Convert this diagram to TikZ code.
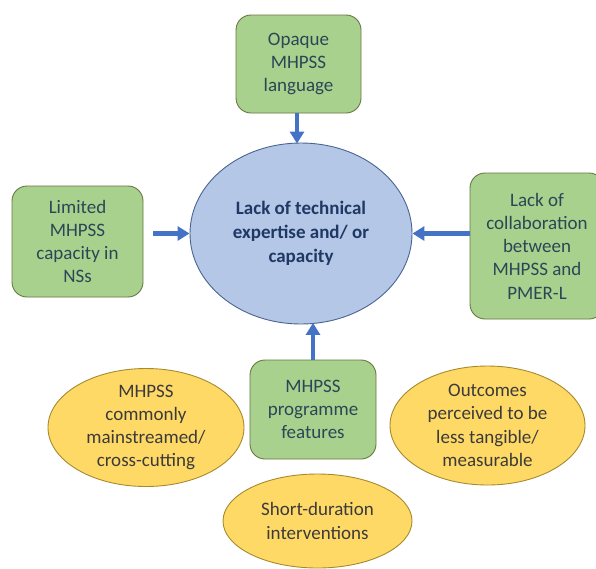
\documentclass[tikz,border=0pt]{standalone}
\usepackage{fontspec}
\setmainfont{Carlito}
\usetikzlibrary{shapes.geometric,arrows.meta}
\definecolor{gfill}{HTML}{A9D18E}
\definecolor{gdraw}{HTML}{66783F}
\definecolor{gtext}{HTML}{2C4656}
\definecolor{bfill}{HTML}{B4C7E7}
\definecolor{bdraw}{HTML}{4A6491}
\definecolor{btext}{HTML}{1F3864}
\definecolor{yfill}{HTML}{FFD966}
\definecolor{ydraw}{HTML}{A68A2E}
\definecolor{ytext}{HTML}{3B3B3B}
\definecolor{arr}{HTML}{4472C4}
\tikzset{
  x=1pt, y=-1pt,
  gbox/.style={draw=gdraw, fill=gfill, line width=0.9pt, rounded corners=15pt,
    text=gtext, align=center, inner sep=0pt,
    font=\fontsize{19}{23.3}\selectfont},
  mainell/.style={ellipse, draw=bdraw, fill=bfill, line width=0.9pt, inner sep=0pt,
    text=btext, align=center, font=\bfseries\fontsize{19}{24}\selectfont},
  yell/.style={ellipse, draw=ydraw, fill=yfill, line width=0.9pt, inner sep=0pt},
  ytxt/.style={text=ytext, align=center, inner sep=0pt,
    font=\fontsize{19}{23.3}\selectfont},
  bluearrow/.style={draw=arr, line width=4.5pt,
    -{Triangle[length=12pt,width=14pt]}}
}
\begin{document}
\begin{tikzpicture}
\useasboundingbox (0,0) rectangle (596,568);
% main ellipse
\node[mainell, minimum width=222pt, minimum height=181pt] (ell) at (301,233.5)
  {Lack of technical\\expertise and/ or\\capacity};
% green boxes
\node[gbox, minimum width=125pt, minimum height=98pt] (top) at (298.5,64)
  {Opaque\\MHPSS\\language};
\node[gbox, minimum width=131pt, minimum height=111pt] (lbox) at (77.5,241.5)
  {Limited\\MHPSS\\capacity in\\NSs};
\node[gbox, minimum width=134pt, minimum height=146pt] (rbox) at (537,246)
  {Lack of\\collaboration\\between\\MHPSS and\\PMER-L};
\node[gbox, minimum width=126pt, minimum height=99pt] (bbox) at (313,409.5)
  {MHPSS\\programme\\features};
% yellow ellipses
\node[yell, minimum width=196pt, minimum height=118pt] (yl) at (146,427.5) {};
\node[ytxt] (yltext) at (yl.center) {MHPSS\\commonly\\mainstreamed/\\cross-cutting};
\node[yell, minimum width=195pt, minimum height=119pt] (yr) at (487.5,425.5) {};
\node[ytxt] (yrtext) at (yr.center) {Outcomes\\perceived to be\\less tangible/\\measurable};
\node[yell, minimum width=189pt, minimum height=94pt] (yb) at (317.5,521) {};
\node[ytxt] (ybtext) at (yb.center) {Short-duration\\interventions};
% arrows
\draw[bluearrow, shorten >=-1pt] (top.south -| 297,0) -- (ell.north -| 297,0);
\draw[bluearrow, shorten <=10pt] (lbox.east |- ell.west) -- (ell.west);
\draw[bluearrow] (rbox.west |- ell.east) -- (ell.east);
\draw[bluearrow] (bbox.north) -- ([yshift=1.5pt]bbox.north |- ell.south);
\end{tikzpicture}
\end{document}
